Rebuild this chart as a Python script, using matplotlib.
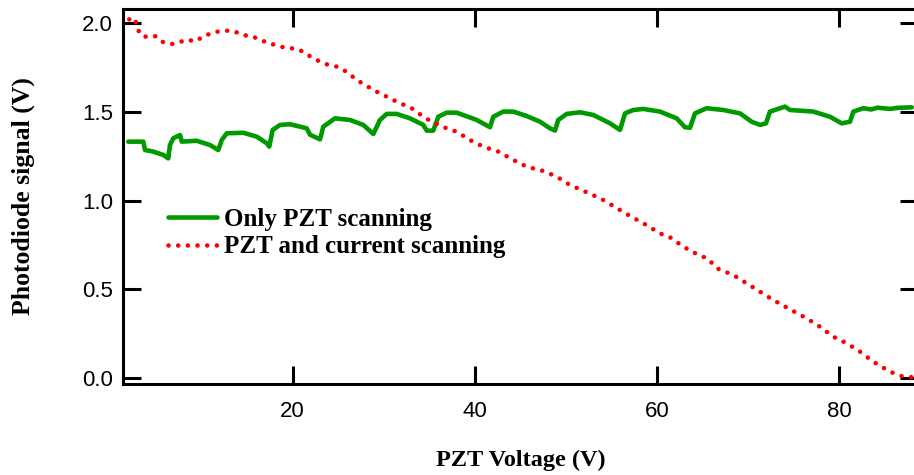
import matplotlib
matplotlib.use("Agg")
import matplotlib.pyplot as plt
from matplotlib.ticker import FormatStrFormatter

# Only PZT scanning (green solid)
pzt_only_x = [1.95, 3.60, 3.79, 4.70, 5.80, 6.34, 6.53, 6.89, 7.63, 7.82, 9.46, 10.92,
              11.83, 12.21, 12.76, 14.58, 16.05, 17.15, 17.43, 17.80, 18.61, 19.70,
              21.54, 21.90, 23.00, 23.36, 24.64, 26.29, 27.75, 28.85, 29.58, 30.32,
              31.42, 32.88, 34.34, 34.71, 35.43, 35.98, 36.90, 38.00, 40.20, 41.66,
              42.02, 43.12, 44.22, 45.69, 47.15, 48.24, 48.79, 49.15, 50.08, 51.54,
              53.00, 54.83, 55.93, 56.48, 57.39, 58.49, 60.32, 62.15, 63.06, 63.61,
              64.16, 65.44, 67.27, 69.10, 70.38, 71.30, 71.95, 72.39, 74.04, 74.59,
              77.15, 78.98, 80.26, 81.18, 81.54, 82.63, 83.5, 84.2, 85.57, 86.4, 87.95]
pzt_only_y = [1.331, 1.331, 1.284, 1.275, 1.256, 1.237, 1.312, 1.350, 1.368, 1.331, 1.336, 1.312,
              1.284, 1.340, 1.378, 1.381, 1.359, 1.322, 1.303, 1.397, 1.425, 1.429,
              1.406, 1.370, 1.344, 1.415, 1.462, 1.453, 1.425, 1.374, 1.453, 1.487,
              1.487, 1.462, 1.425, 1.393, 1.393, 1.471, 1.494, 1.494, 1.453, 1.412,
              1.471, 1.500, 1.500, 1.475, 1.443, 1.406, 1.393, 1.453, 1.487, 1.496,
              1.481, 1.434, 1.397, 1.490, 1.509, 1.515, 1.500, 1.462, 1.412, 1.409,
              1.490, 1.519, 1.509, 1.490, 1.443, 1.425, 1.434, 1.500, 1.528, 1.509,
              1.500, 1.471, 1.434, 1.443, 1.500, 1.519, 1.512, 1.522, 1.515, 1.521, 1.524]

# PZT and current scanning (red dotted)
pzt_cur_x = [2.06, 2.69, 2.94, 3.60, 4.88, 5.62, 6.72, 7.52, 8.18, 9.46, 10.19, 11.66,
             12.76, 13.48, 14.58, 15.68, 16.41, 17.51, 18.61, 19.89, 20.80, 21.54, 22.63,
             23.73, 24.83, 25.93, 27.03, 28.12, 29.22, 30.32, 31.42, 33.06, 34.34, 35.43,
             36.90, 38.00, 39.46, 40.92, 42.57, 44.22, 45.69, 47.51, 48.98, 50.44, 51.90,
             53.37, 54.09, 55.19, 57.03, 58.49, 60.32, 61.42, 62.88, 64.35, 65.62, 66.54,
             68.36, 69.84, 71.30, 72.76, 74.59, 76.42, 77.88, 79.34, 80.81, 82.27, 83.73,
             85.57, 87.03, 88.12]
pzt_cur_y = [2.019, 2.025, 1.963, 1.921, 1.925, 1.893, 1.880, 1.888, 1.903, 1.897, 1.925, 1.949,
             1.955, 1.953, 1.931, 1.921, 1.903, 1.884, 1.865, 1.856, 1.846, 1.822, 1.790,
             1.766, 1.753, 1.724, 1.678, 1.644, 1.612, 1.584, 1.556, 1.519, 1.471, 1.438,
             1.406, 1.387, 1.340, 1.303, 1.275, 1.228, 1.190, 1.166, 1.134, 1.087, 1.055,
             1.021, 1.003, 0.969, 0.913, 0.872, 0.815, 0.793, 0.740, 0.699, 0.671, 0.619,
             0.581, 0.534, 0.487, 0.440, 0.388, 0.337, 0.290, 0.234, 0.197, 0.150, 0.093,
             0.037, 0.009, 0.006]

x_ticks = [20, 40, 60, 80]
y_ticks = [0.0, 0.5, 1.0, 1.5, 2.0]
series_labels = ["Only PZT scanning", "PZT and current scanning"]

fig = plt.figure(figsize=(9.14, 4.75), dpi=100)
ax = fig.add_axes([122.7 / 914, 1 - 384 / 475, (918 - 122.7) / 914, (384 - 9) / 475])

ax.plot(pzt_only_x, pzt_only_y, color="#009900", lw=3.3, solid_joinstyle="round",
        solid_capstyle="round", label=series_labels[0])
ax.plot(pzt_cur_x, pzt_cur_y, color="#ff0000", lw=3.3, linestyle=(0, (0.01, 2.1)),
        dash_capstyle="round", label=series_labels[1])

ax.set_xlim(1.34, 88.64)
ax.set_ylim(-0.032, 2.077)
ax.set_xticks(x_ticks)
ax.set_yticks(y_ticks)
ax.yaxis.set_major_formatter(FormatStrFormatter("%.1f"))

for s in ax.spines.values():
    s.set_linewidth(2.2)
ax.tick_params(direction="in", length=13, width=2.2, top=True, right=True,
               labeltop=False, labelright=False)
ax.tick_params(axis="y", pad=7)
ax.tick_params(axis="x", pad=12)
for lab in ax.get_xticklabels() + ax.get_yticklabels():
    lab.set_fontfamily("Liberation Sans")
    lab.set_fontsize(16)

ax.set_xlabel("PZT Voltage (V)", family="Liberation Serif", weight="bold", size=17.5,
              labelpad=20)
ax.set_ylabel("Photodiode signal (V)", family="Liberation Serif", weight="bold", size=18.5,
              labelpad=34)

leg = ax.legend(loc="upper left", bbox_to_anchor=(0.057, 0.469), frameon=False,
                borderpad=0, borderaxespad=0, handlelength=1.95, handletextpad=0.3,
                labelspacing=0.17,
                prop=dict(family="Liberation Serif", weight="bold", size=18))

fig.savefig("out.png", dpi=100)
